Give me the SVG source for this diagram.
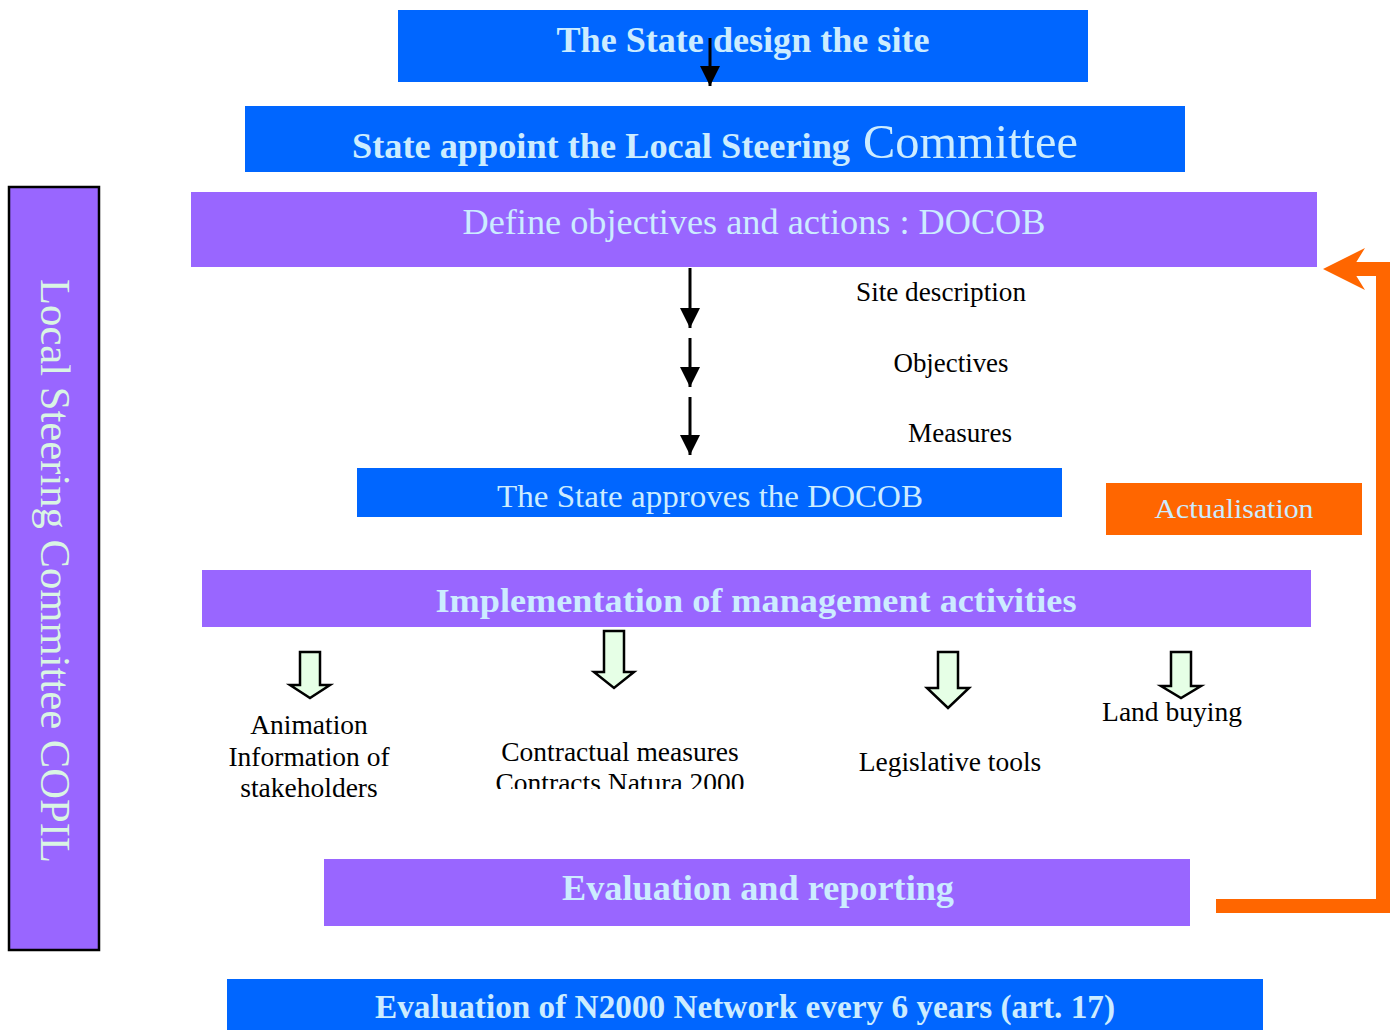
<svg xmlns="http://www.w3.org/2000/svg" width="1398" height="1030" viewBox="0 0 1398 1030">
<style>
.blue{fill:#0066FF}
.purple{fill:#9966FF}
.orange{fill:#FF6600}
.lt{font-family:"Liberation Serif","Times New Roman",serif;fill:#CCECFF;text-anchor:middle}
.bk{font-family:"Liberation Serif","Times New Roman",serif;fill:#000;font-size:27.5px;text-anchor:middle}
.b{font-weight:bold}
.hollow{fill:#E6FFE6;stroke:#000;stroke-width:2.5;stroke-linejoin:miter}
.blk{stroke:#000;stroke-width:3;fill:none}
</style>
<defs>
<marker id="ah" markerUnits="userSpaceOnUse" markerWidth="22" markerHeight="20" refX="20" refY="10" orient="auto">
<path d="M0,0 L20,10 L0,20 Z" fill="#000"/>
</marker>
<clipPath id="clipC"><rect x="400" y="730" width="440" height="59"/></clipPath>
</defs>
<rect width="1398" height="1030" fill="#fff"/>

<g id="n-design">
<rect class="blue" x="398" y="10" width="690" height="72"/>
<text class="lt b" x="743" y="52" font-size="36" textLength="373" lengthAdjust="spacingAndGlyphs">The State design the site</text>
</g>

<g id="n-appoint">
<rect class="blue" x="245" y="106" width="940" height="66"/>
<text class="lt" x="352" y="158" style="text-anchor:start"><tspan class="b" font-size="35" textLength="498" lengthAdjust="spacingAndGlyphs">State appoint the Local Steering</tspan><tspan font-size="48" x="863" textLength="215" lengthAdjust="spacingAndGlyphs">Committee</tspan></text>
</g>

<g id="n-define">
<rect class="purple" x="191" y="192" width="1126" height="75"/>
<text class="lt" x="754" y="234" font-size="36" textLength="583" lengthAdjust="spacingAndGlyphs">Define objectives and actions : DOCOB</text>
</g>

<g id="n-steps" font-family="Liberation Serif, serif">
<text class="bk" x="941" y="301" textLength="170" lengthAdjust="spacingAndGlyphs">Site description</text>
<text class="bk" x="951" y="372" textLength="115" lengthAdjust="spacingAndGlyphs">Objectives</text>
<text class="bk" x="960" y="442" textLength="104" lengthAdjust="spacingAndGlyphs">Measures</text>
</g>

<g id="n-approves">
<rect class="blue" x="357" y="468" width="705" height="49"/>
<text class="lt" x="710" y="507" font-size="32" textLength="426" lengthAdjust="spacingAndGlyphs">The State approves the DOCOB</text>
</g>

<g id="n-actualisation">
<rect class="orange" x="1106" y="483" width="256" height="52"/>
<text class="lt" x="1234" y="518" font-size="28" textLength="159" lengthAdjust="spacingAndGlyphs">Actualisation</text>
</g>

<g id="n-implementation">
<rect class="purple" x="202" y="570" width="1109" height="57"/>
<text class="lt b" x="756" y="612" font-size="34" textLength="641" lengthAdjust="spacingAndGlyphs">Implementation of management activities</text>
</g>

<g id="n-animation">
<text class="bk" x="309" y="734">Animation</text>
<text class="bk" x="309" y="766">Information of</text>
<text class="bk" x="309" y="797">stakeholders</text>
</g>

<g id="n-contractual">
<g clip-path="url(#clipC)">
<text class="bk" x="620" y="761">Contractual measures</text>
<text class="bk" x="620" y="792">Contracts Natura 2000</text>
</g>
</g>

<g id="n-legislative">
<text class="bk" x="950" y="771">Legislative tools</text>
</g>

<g id="n-land">
<text class="bk" x="1172" y="721">Land buying</text>
</g>

<g id="n-evaluation">
<rect class="purple" x="324" y="859" width="866" height="67"/>
<text class="lt b" x="758" y="900" font-size="36" textLength="392" lengthAdjust="spacingAndGlyphs">Evaluation and reporting</text>
</g>

<g id="n-network">
<rect class="blue" x="227" y="979" width="1036" height="56"/>
<text class="lt b" x="745" y="1018" font-size="33" textLength="740" lengthAdjust="spacingAndGlyphs">Evaluation of N2000 Network every 6 years (art. 17)</text>
</g>

<g id="n-copil">
<rect class="purple" x="9" y="187" width="90" height="763" stroke="#000" stroke-width="2.5"/>
<text x="55" y="571" transform="rotate(90 55 571)" font-family="Liberation Serif, Times New Roman, serif" font-size="42" fill="#D9F5E3" text-anchor="middle" dominant-baseline="central" textLength="584" lengthAdjust="spacingAndGlyphs">Local Steering Committee COPIL</text>
</g>

<g id="connectors">
<line class="blk" x1="710" y1="38" x2="710" y2="86" marker-end="url(#ah)"/>
<line class="blk" x1="690" y1="268" x2="690" y2="328" marker-end="url(#ah)"/>
<line class="blk" x1="690" y1="338" x2="690" y2="387" marker-end="url(#ah)"/>
<line class="blk" x1="690" y1="397" x2="690" y2="455" marker-end="url(#ah)"/>

<path class="hollow" d="M300,652 H320 V685 H330 L310,698 L290,685 H300 Z"/>
<path class="hollow" d="M604,631 H624 V672 H634 L614,688 L594,672 H604 Z"/>
<path class="hollow" d="M938,652 H958 V688 H969 L948,708 L927,688 H938 Z"/>
<path class="hollow" d="M1171,652 H1191 V686 H1201 L1181,698 L1161,686 H1171 Z"/>

<path d="M1216,906 H1383 V269 H1350" fill="none" stroke="#FF6600" stroke-width="14"/>
<path d="M1323,269 L1365,248 L1352,269 L1365,290 Z" fill="#FF6600"/>
</g>
</svg>
